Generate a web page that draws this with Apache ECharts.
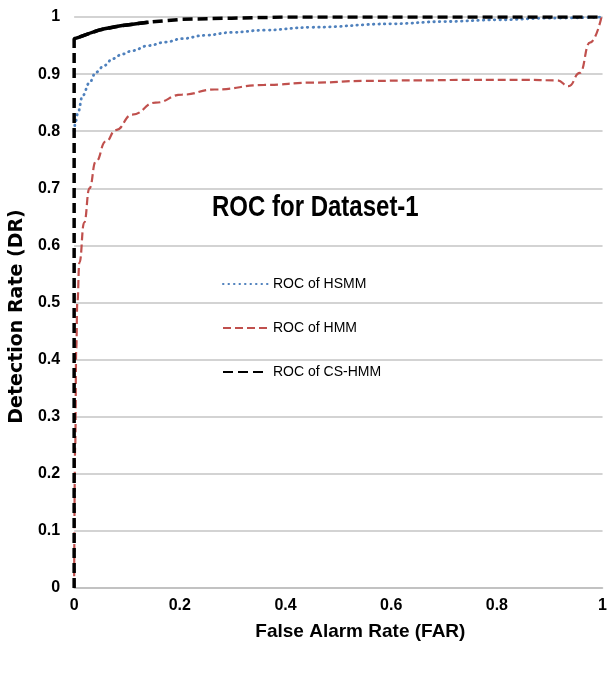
<!DOCTYPE html>
<html>
<head>
<meta charset="utf-8">
<script src="https://cdn.jsdelivr.net/npm/echarts@6/dist/echarts.min.js"></script>
<style>
  html, body { margin: 0; padding: 0; background: #fff; }
  #chart { width: 610px; height: 673px; }
</style>
</head>
<body>
<div id="chart"></div>
<script>
// ROC curves
const xTicks = [0, 0.2, 0.4, 0.6, 0.8, 1]

const hsmmFar = [0, 0.003, 0.007, 0.016, 0.029, 0.041, 0.057, 0.073, 0.091, 0.11, 0.141, 0.173, 0.204, 0.248, 0.298, 0.36, 0.45, 0.6, 0.7, 0.8, 0.9, 1]
const hsmmDr = [0.8, 0.818, 0.832, 0.862, 0.885, 0.903, 0.915, 0.927, 0.935, 0.941, 0.95, 0.956, 0.962, 0.968, 0.973, 0.977, 0.982, 0.988, 0.992, 0.995, 0.998, 1]

const hmmFar = [0, 0.002, 0.004, 0.006, 0.01, 0.019, 0.029, 0.041, 0.06, 0.079, 0.11, 0.154, 0.204, 0.266, 0.36, 0.45, 0.55, 0.65, 0.75, 0.85, 0.914, 0.936, 0.957, 0.976, 0.998]
const hmmDr = [0, 0.25, 0.42, 0.5, 0.57, 0.64, 0.7, 0.747, 0.782, 0.802, 0.829, 0.85, 0.864, 0.873, 0.881, 0.885, 0.888, 0.889, 0.89, 0.89, 0.889, 0.879, 0.902, 0.955, 1]

const csHmmFar = [0, 0, 0.004, 0.047, 0.091, 0.141, 0.204, 0.298, 0.4, 1]
const csHmmDr = [0, 0.962, 0.963, 0.977, 0.985, 0.991, 0.996, 0.998, 1, 1]

const zip = (xs, ys) => xs.map((x, i) => [x, ys[i]])

const sans = "'Liberation Sans', Arial, sans-serif"

const myChart = echarts.init(document.getElementById('chart'))

const options = {
  animation: false,
  graphic: [
    {
      // condensed bold title, like the original
      type: 'text',
      x: 212,
      y: 208,
      scaleX: 0.8,
      style: {
        text: 'ROC for Dataset-1',
        font: 'bold 30px ' + sans,
        fill: '#000',
        textVerticalAlign: 'middle'
      }
    }
  ],
  legend: {
    orient: 'vertical',
    left: 217,
    top: 272,
    itemWidth: 45,
    itemHeight: 14,
    itemGap: 30,
    itemStyle: { opacity: 0 },
    data: ['ROC of HSMM', 'ROC of HMM', 'ROC of CS-HMM'],
    textStyle: { fontFamily: sans, fontSize: 14, color: '#000' }
  },
  grid: { left: 73, right: 4, top: 17, bottom: 85 },
  xAxis: {
    type: 'value',
    min: 0,
    max: 1,
    interval: 0.2,
    name: 'False Alarm Rate (FAR)',
    nameLocation: 'middle',
    nameGap: 34,
    nameTextStyle: { fontFamily: sans, fontWeight: 'bold', fontSize: 19, color: '#000', padding: [0, 0, 0, 44] },
    axisLine: { lineStyle: { color: '#bdbdbd', width: 1.5 } },
    axisTick: { show: false },
    splitLine: { show: false },
    axisLabel: {
      margin: 10,
      fontFamily: sans,
      fontWeight: 'bold',
      fontSize: 16,
      color: '#000',
      formatter: (v) => (xTicks.includes(v) ? String(v) : '')
    }
  },
  yAxis: {
    type: 'value',
    min: 0,
    max: 1,
    interval: 0.1,
    name: 'Detection Rate (DR)',
    nameLocation: 'middle',
    nameRotate: 90,
    nameGap: 40,
    nameTextStyle: { fontFamily: "'DejaVu Sans', sans-serif", fontWeight: 'bold', fontSize: 19, color: '#000', padding: [0, 28, 0, 0] },
    axisLine: { show: false },
    axisTick: { show: false },
    splitLine: { lineStyle: { color: '#c4c4c4', width: 1.5 } },
    axisLabel: {
      margin: 14,
      fontFamily: sans,
      fontWeight: 'bold',
      fontSize: 16,
      color: '#000'
    }
  },
  series: [
    {
      name: 'ROC of HSMM',
      type: 'line',
      data: zip(hsmmFar, hsmmDr),
      smooth: 0.4,
      smoothMonotone: 'x',
      showSymbol: false,
      symbol: 'none',
      lineStyle: { color: '#4f81bd', width: 2.8, type: [0.5, 5], cap: 'round' },
      itemStyle: { color: '#4f81bd' },
      z: 3
    },
    {
      name: 'ROC of HMM',
      type: 'line',
      data: zip(hmmFar, hmmDr),
      smooth: 0.5,
      smoothMonotone: 'x',
      showSymbol: false,
      symbol: 'none',
      lineStyle: { color: '#c0504d', width: 2.2, type: [8, 4] },
      itemStyle: { color: '#c0504d' },
      z: 2
    },
    {
      name: 'ROC of CS-HMM',
      type: 'line',
      data: zip(csHmmFar, csHmmDr),
      smooth: false,
      showSymbol: false,
      symbol: 'none',
      lineStyle: { color: '#000', width: 3.5, type: [10, 5] },
      itemStyle: { color: '#000' },
      z: 4
    },
    {
      // the first stretch of the CS-HMM curve looks solid in the original
      name: 'CS-HMM solid',
      type: 'line',
      data: zip(csHmmFar, csHmmDr).slice(1, 6),
      smooth: 0.3,
      showSymbol: false,
      symbol: 'none',
      lineStyle: { color: '#000', width: 3.5 },
      z: 5
    }
  ]
}

myChart.setOption(options)
window.addEventListener('resize', () => myChart.resize())
</script>
</body>
</html>
